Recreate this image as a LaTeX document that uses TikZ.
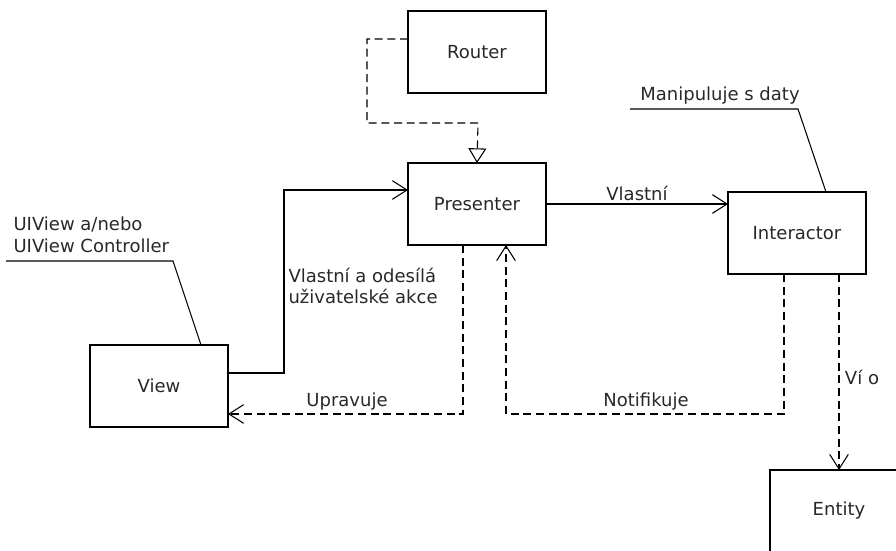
\documentclass[tikz,border=0pt]{standalone}
\usepackage{fontspec}
\setmainfont{DejaVu Sans}
\usepackage{tikz}
\usetikzlibrary{positioning,calc,arrows.meta}
\definecolor{mytext}{RGB}{40,40,40}
\tikzset{
  viperpic/.style={
    x=0.75pt,y=-0.75pt
    ,font=\fontsize{13.5}{16}\selectfont\color{mytext}
    ,line width=0.8pt
  }
  ,modul/.style={draw=black,fill=white,minimum width=103.5pt
    ,minimum height=61.5pt,inner sep=0pt,outer sep=0pt}
  ,lbl/.style={inner sep=0pt}
  ,note/.style={inner sep=0pt,align=left}
  ,vlastni/.style={-{Straight Barb[length=11pt,width=14pt]}}
  ,zavislost/.style={dash pattern=on 6pt off 3.5pt
    ,-{Straight Barb[length=11pt,width=14pt]}}
  ,dedi/.style={dash pattern=on 6pt off 3.5pt
    ,-{Triangle[open,length=11pt,width=13.5pt,fill=white]}}
}
\begin{document}
\begin{tikzpicture}[viperpic]
    \useasboundingbox (0,0) rectangle (896,550);
    \clip (0,0) rectangle (896,550);

    % moduly
    \node[modul] (router) at (477,52) {Router};
    \node[modul] (presenter) at (477,204) {Presenter};
    \node[modul] (interactor) at (797,233) {Interactor};
    \node[modul] (view) at (159,386) {View};
    \node[modul] (entity) at (839,511) {Entity};

    % poznamky
    \node[note,anchor=south west] (uiviewnote) at (13,253)
      {UIView a/nebo\\UIView Controller};
    \node[note,anchor=south] (datanote) at (720,105) {Manipuluje s daty};
    \draw (6,261) -- (173,261) -- ([xshift=31.5pt]view.north);
    \draw (630,109) -- (798,109) -- ([xshift=21.75pt]interactor.north);

    % vazby
    \draw[dedi] ([yshift=9.75pt]router.west) -- ++(-41,0) |- (478,123)
      -- (presenter.north);
    \draw[vlastni] ([yshift=9.75pt]view.east) -| (284,190)
      -- ([yshift=10.5pt]presenter.west);
    \draw[vlastni] (presenter.east) -- (presenter.east -| interactor.west);
    \draw[zavislost] ([xshift=-10.5pt]presenter.south) |- ([yshift=-21pt]view.east);
    \draw[zavislost] ([xshift=-9.75pt]interactor.south) -- ++(0,140)
      -| ([xshift=21.75pt]presenter.south);
    \draw[zavislost] (entity.north |- interactor.south) -- (entity.north);

    % popisky
    \node[lbl] (vlastnilbl) at (637,193) {Vlastní};
    \node[note,anchor=west] (akcelbl) at (288,286)
      {Vlastní a odesílá\\uživatelské akce};
    \node[lbl] (upravujelbl) at (347,402) {Upravuje};
    \node[lbl] (notiflbl) at (646,402) {Notifikuje};
    \node[lbl] (vilbl) at (862,377) {Ví o};
\end{tikzpicture}
\end{document}
